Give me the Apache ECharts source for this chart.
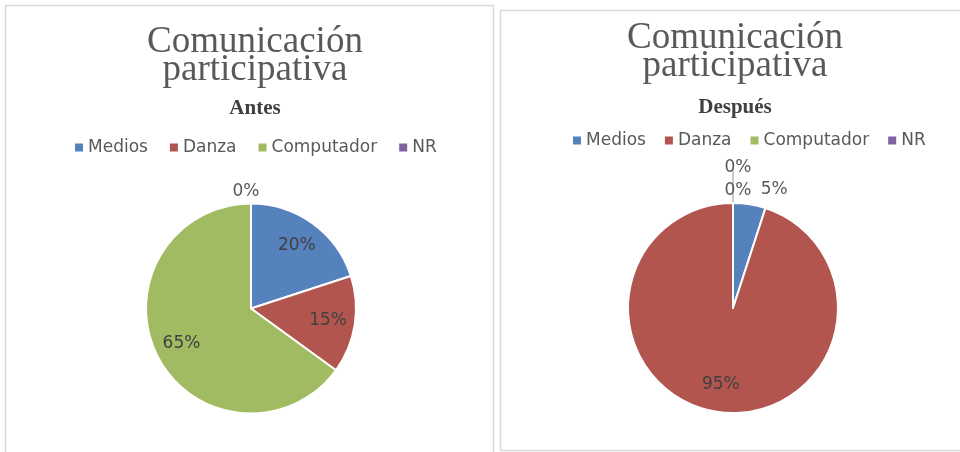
<!DOCTYPE html>
<html><head><meta charset="utf-8">
<script src="https://cdn.jsdelivr.net/npm/echarts@6/dist/echarts.min.js"></script>
<style>html,body{margin:0;padding:0;background:#fff}#c{width:960px;height:452px}</style>
</head><body><div id="c"></div>
<script>
const categories = ['Medios', 'Danza', 'Computador', 'NR'];
const antes = [20, 15, 65, 0];
const despues = [5, 95, 0, 0];
const colors = ['#5581BC', '#B3554F', '#A0BB62', '#7F63A1'];
const mainTitle = 'Comunicación\nparticipativa';
const subTitles = ['Antes', 'Después'];
// which labels sit inside the slices
const insideAntes = [true, true, true, false];
const insideDespues = [false, true, false, false];

const SANS = 'DejaVu Sans';
const SERIF = 'Liberation Serif';
const R = 105;
// leader length for outside labels (per slice, per chart)
const leadAntes = [12, 12, 12, 12];
const leadDespues = [15, 12, 12, 35];

function mainSeries(vals, inside, lead, center, showLine) {
  return {
    type: 'pie', center: center, radius: R, startAngle: 90, clockwise: true,
    avoidLabelOverlap: false,
    itemStyle: { borderColor: '#fff', borderWidth: 2 },
    label: { show: true, position: 'outside', formatter: '{c}%', fontFamily: SANS, fontSize: 17, color: '#595959' },
    labelLine: { show: false, length: 12, length2: 4, lineStyle: { color: '#a6a6a6', width: 1.2 } },
    labelLayout: function (p) {
      if (vals[p.dataIndex] === 0) return { align: 'center' };
      return {};
    },
    emphasis: { scale: false },
    data: categories.map((n, i) => ({
      name: n, value: vals[i], itemStyle: { color: colors[i] },
      label: { show: !inside[i] },
      labelLine: { show: showLine && !inside[i] && lead[i] > 20, length: lead[i], length2: vals[i] === 0 ? 0 : 4 }
    }))
  };
}
function insideSeries(vals, inside, center) {
  return {
    type: 'pie', silent: true, center: center, radius: [45, R], startAngle: 90, clockwise: true,
    itemStyle: { color: 'rgba(0,0,0,0)', borderWidth: 0 },
    label: { show: true, position: 'inside', formatter: '{c}%', fontFamily: SANS, fontSize: 17, color: '#404040', padding: [6, 0, 0, 0] },
    labelLine: { show: false },
    data: categories.map((n, i) => ({ name: n, value: vals[i], label: { show: inside[i] } }))
  };
}
function legend(left, top, gap) {
  return {
    left: left, top: top, icon: 'rect', itemWidth: 8, itemHeight: 8, itemGap: gap, itemStyle: { borderWidth: 0 },
    selectedMode: false,
    textStyle: { fontFamily: SANS, fontSize: 17, color: '#595959' },
    data: categories.map((n, i) => ({ name: n, itemStyle: { color: colors[i] } }))
  };
}

const chart = echarts.init(document.getElementById('c'), null, { renderer: 'canvas' });
chart.setOption({
  animation: false,
  backgroundColor: '#fff',
  graphic: [
    { type: 'rect', shape: { x: 5.5, y: 5.5, width: 488, height: 470 }, style: { fill: 'none', stroke: '#d9d9d9', lineWidth: 1.5 }, silent: true },
    { type: 'rect', shape: { x: 500.5, y: 10.5, width: 480, height: 440 }, style: { fill: 'none', stroke: '#d9d9d9', lineWidth: 1.5 }, silent: true }
  ],
  title: [
    { text: mainTitle, left: 255, top: 28, textAlign: 'center', padding: 0, textStyle: { fontFamily: SERIF, fontSize: 37, fontWeight: 'normal', color: '#595959', lineHeight: 28 } },
    { text: subTitles[0], left: 255, top: 97, textAlign: 'center', padding: 0, textStyle: { fontFamily: SERIF, fontSize: 21, fontWeight: 'bold', color: '#404040', lineHeight: 24 } },
    { text: mainTitle, left: 735, top: 24, textAlign: 'center', padding: 0, textStyle: { fontFamily: SERIF, fontSize: 37, fontWeight: 'normal', color: '#595959', lineHeight: 28 } },
    { text: subTitles[1], left: 735, top: 96, textAlign: 'center', padding: 0, textStyle: { fontFamily: SERIF, fontSize: 21, fontWeight: 'bold', color: '#404040', lineHeight: 24 } }
  ],
  legend: [legend(70, 134, 22), legend(568, 127, 19)],
  series: [
    mainSeries(antes, insideAntes, leadAntes, [251, 308.5], false),
    insideSeries(antes, insideAntes, [251, 308.5]),
    mainSeries(despues, insideDespues, leadDespues, [733, 308], true),
    insideSeries(despues, insideDespues, [733, 308])
  ]
});
</script></body></html>
